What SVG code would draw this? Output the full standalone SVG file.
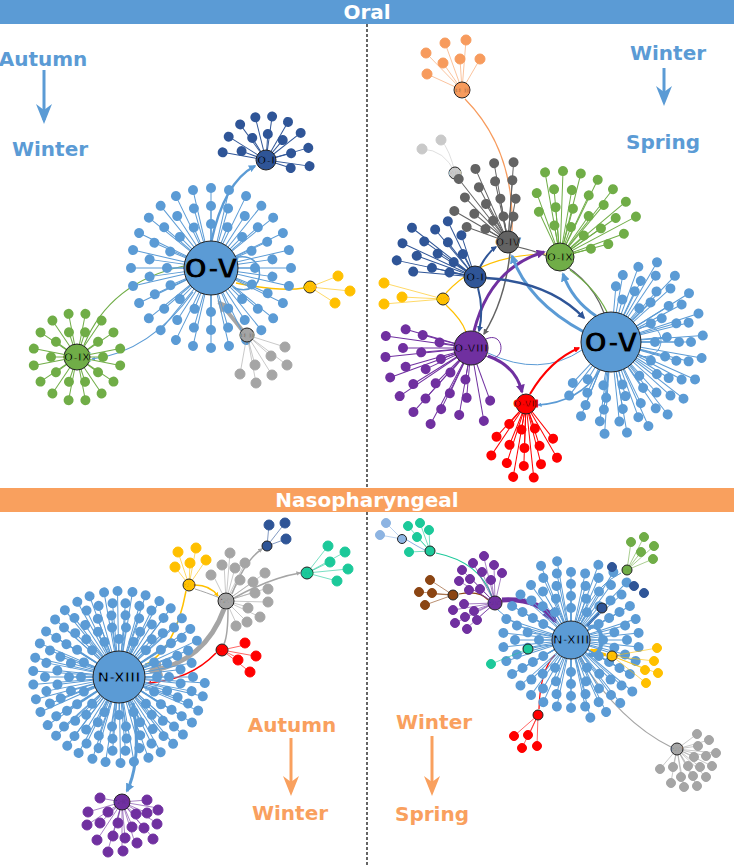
<svg xmlns="http://www.w3.org/2000/svg" xmlns:xlink="http://www.w3.org/1999/xlink" width="734" height="866" viewBox="0 0 734 866">
<style>
text{font-family:"DejaVu Sans","Liberation Sans",sans-serif;font-weight:bold;text-anchor:middle}
.hdr{fill:#fff;font-size:20px}
.sb{fill:#5b9bd5;font-size:20px}
.so{fill:#f9a05e;font-size:20px}
.hub{stroke:#222;stroke-width:1}
.hl{fill:#000;font-size:10px}
.lf line{stroke-width:.6}
.lf path{fill:none;stroke-width:.6}
.e{fill:none}
.bl{fill:#5b9bd5;stroke:#5b9bd5}
.db{fill:#2f5597;stroke:#2f5597}
.gr{fill:#70ad47;stroke:#70ad47}
.ye{fill:#ffc000;stroke:#ffc000}
.gy{fill:#a5a5a5;stroke:#a5a5a5}
.dg{fill:#636363;stroke:#636363}
.or{fill:#f79b5d;stroke:#f79b5d}
.pu{fill:#7030a0;stroke:#7030a0}
.rd{fill:#ff0000;stroke:#ff0000}
.te{fill:#1cc99a;stroke:#1cc99a}
.br{fill:#8b4513;stroke:#8b4513}
.lg{fill:#c9c9c9;stroke:#c9c9c9}
.lb{fill:#8db4e2;stroke:#8db4e2}
</style>
<defs>
<g id="k20"><line x2="20"/><circle cx="20" r="5" stroke="none"/></g>
<g id="k26"><line x2="26"/><circle cx="26" r="5" stroke="none"/></g>
<g id="k32"><line x2="32"/><circle cx="32" r="5" stroke="none"/></g>
<g id="k38"><line x2="38"/><circle cx="38" r="5" stroke="none"/></g>
<g id="k44"><line x2="44"/><circle cx="44" r="5" stroke="none"/></g>
<g id="k50"><line x2="50"/><circle cx="50" r="5" stroke="none"/></g>
<g id="k56"><line x2="56"/><circle cx="56" r="5" stroke="none"/></g>
<g id="k62"><line x2="62"/><circle cx="62" r="5" stroke="none"/></g>
<g id="k68"><line x2="68"/><circle cx="68" r="5" stroke="none"/></g>
<g id="k74"><line x2="74"/><circle cx="74" r="5" stroke="none"/></g>
<g id="k80"><line x2="80"/><circle cx="80" r="5" stroke="none"/></g>
<g id="k86"><line x2="86"/><circle cx="86" r="5" stroke="none"/></g>
<g id="k92"><line x2="92"/><circle cx="92" r="5" stroke="none"/></g>
<marker id="mbl" viewBox="0 0 10 10" refX="8" refY="5" markerWidth="3" markerHeight="3" orient="auto"><path d="M0,0L10,5L0,10z" fill="#5b9bd5"/></marker>
<marker id="mdb" viewBox="0 0 10 10" refX="8" refY="5" markerWidth="3" markerHeight="3" orient="auto"><path d="M0,0L10,5L0,10z" fill="#2f5597"/></marker>
<marker id="mpu" viewBox="0 0 10 10" refX="8" refY="5" markerWidth="3" markerHeight="3" orient="auto"><path d="M0,0L10,5L0,10z" fill="#7030a0"/></marker>
<marker id="mrd" viewBox="0 0 10 10" refX="8" refY="5" markerWidth="3" markerHeight="3" orient="auto"><path d="M0,0L10,5L0,10z" fill="#ff0000"/></marker>
<marker id="mgy" viewBox="0 0 10 10" refX="8" refY="5" markerWidth="3" markerHeight="3" orient="auto"><path d="M0,0L10,5L0,10z" fill="#a5a5a5"/></marker>
<marker id="mdg" viewBox="0 0 10 10" refX="8" refY="5" markerWidth="4" markerHeight="4" orient="auto"><path d="M0,0L10,5L0,10z" fill="#636363"/></marker>
<marker id="mye" viewBox="0 0 10 10" refX="8" refY="5" markerWidth="3" markerHeight="3" orient="auto"><path d="M0,0L10,5L0,10z" fill="#ffc000"/></marker>
<marker id="mseason" viewBox="0 0 10 10" refX="5" refY="9" markerWidth="8" markerHeight="8" orient="auto-start-reverse"><path d="M0,0L5,10L10,0L5,3z"/></marker>
</defs>
<rect width="734" height="866" fill="#fff"/>
<!-- headers -->
<rect x="0" y="0" width="734" height="24" fill="#5b9bd5"/>
<text class="hdr" x="367" y="19">Oral</text>
<rect x="0" y="488" width="734" height="24" fill="#f9a05e"/>
<text class="hdr" x="367" y="507">Nasopharyngeal</text>
<line x1="367" y1="24" x2="367" y2="488" stroke="#000" stroke-width="1.2" stroke-dasharray="3,2"/>
<line x1="367" y1="512" x2="367" y2="866" stroke="#000" stroke-width="1.2" stroke-dasharray="3,2"/>
<!-- season labels -->
<g id="seasons">
<text class="sb" x="43" y="66">Autumn</text>
<line x1="44" y1="70" x2="44" y2="120" stroke="#5b9bd5" stroke-width="3"/><path d="M36,104L44,124L52,104L44,110z" fill="#5b9bd5"/>
<text class="sb" x="50" y="156">Winter</text>
<text class="sb" x="668" y="60">Winter</text>
<line x1="664" y1="68" x2="664" y2="100" stroke="#5b9bd5" stroke-width="3"/><path d="M656,86L664,106L672,86L664,92z" fill="#5b9bd5"/>
<text class="sb" x="663" y="149">Spring</text>
<text class="so" x="292" y="732">Autumn</text>
<line x1="291" y1="738" x2="291" y2="790" stroke="#f9a05e" stroke-width="3"/><path d="M283,776L291,796L299,776L291,782z" fill="#f9a05e"/>
<text class="so" x="290" y="820">Winter</text>
<text class="so" x="434" y="729">Winter</text>
<line x1="432" y1="736" x2="432" y2="790" stroke="#f9a05e" stroke-width="3"/><path d="M424,776L432,796L440,776L432,782z" fill="#f9a05e"/>
<text class="so" x="432" y="821">Spring</text>
</g>

<!-- ================= TOP LEFT ================= -->
<g id="connectors-tl" class="e">
<path class="e" d="M211,243Q224,182 255,166" stroke="#5b9bd5" stroke-width="2.5" marker-end="url(#mbl)"/>
<path class="e" d="M84,345Q110,282 184,266" stroke="#70ad47" stroke-width="1.2"/>
<path class="e" d="M193,292Q150,352 92,359" stroke="#5b9bd5" stroke-width="1.2" marker-end="url(#mbl)"/>
<path class="e" d="M236,283Q280,292 304,288" stroke="#ffc000" stroke-width="1.5"/>
<path class="e" d="M242,330Q228,312 219,302" stroke="#a5a5a5" stroke-width="4" marker-end="url(#mgy)"/>
<path class="e" d="M234,258C268,248 268,300 234,288" stroke="#5b9bd5" stroke-width="1.5"/>
</g>
<g id="tl-OV" class="lf bl" transform="translate(211,268)">
<use href="#k44" transform="rotate(0)"/><use href="#k44" transform="rotate(22)"/><use href="#k44" transform="rotate(45)"/><use href="#k44" transform="rotate(67)"/><use href="#k44" transform="rotate(90)"/><use href="#k44" transform="rotate(112)"/><use href="#k44" transform="rotate(135)"/><use href="#k44" transform="rotate(157)"/><use href="#k44" transform="rotate(180)"/><use href="#k44" transform="rotate(202)"/><use href="#k44" transform="rotate(225)"/><use href="#k44" transform="rotate(247)"/><use href="#k44" transform="rotate(270)"/><use href="#k44" transform="rotate(292)"/><use href="#k44" transform="rotate(315)"/><use href="#k44" transform="rotate(337)"/>
<use href="#k62" transform="rotate(8)"/><use href="#k62" transform="rotate(24)"/><use href="#k62" transform="rotate(41)"/><use href="#k62" transform="rotate(57)"/><use href="#k62" transform="rotate(74)"/><use href="#k62" transform="rotate(90)"/><use href="#k62" transform="rotate(106)"/><use href="#k62" transform="rotate(123)"/><use href="#k62" transform="rotate(139)"/><use href="#k62" transform="rotate(155)"/><use href="#k62" transform="rotate(172)"/><use href="#k62" transform="rotate(188)"/><use href="#k62" transform="rotate(204)"/><use href="#k62" transform="rotate(221)"/><use href="#k62" transform="rotate(237)"/><use href="#k62" transform="rotate(254)"/><use href="#k62" transform="rotate(270)"/><use href="#k62" transform="rotate(286)"/><use href="#k62" transform="rotate(303)"/><use href="#k62" transform="rotate(319)"/><use href="#k62" transform="rotate(335)"/><use href="#k62" transform="rotate(352)"/>
<use href="#k80" transform="rotate(0)"/><use href="#k80" transform="rotate(13)"/><use href="#k80" transform="rotate(26)"/><use href="#k80" transform="rotate(39)"/><use href="#k80" transform="rotate(51)"/><use href="#k80" transform="rotate(64)"/><use href="#k80" transform="rotate(77)"/><use href="#k80" transform="rotate(90)"/><use href="#k80" transform="rotate(103)"/><use href="#k80" transform="rotate(116)"/><use href="#k80" transform="rotate(129)"/><use href="#k80" transform="rotate(141)"/><use href="#k80" transform="rotate(154)"/><use href="#k80" transform="rotate(167)"/><use href="#k80" transform="rotate(180)"/><use href="#k80" transform="rotate(193)"/><use href="#k80" transform="rotate(206)"/><use href="#k80" transform="rotate(219)"/><use href="#k80" transform="rotate(231)"/><use href="#k80" transform="rotate(244)"/><use href="#k80" transform="rotate(257)"/><use href="#k80" transform="rotate(270)"/><use href="#k80" transform="rotate(283)"/><use href="#k80" transform="rotate(296)"/><use href="#k80" transform="rotate(309)"/><use href="#k80" transform="rotate(321)"/><use href="#k80" transform="rotate(334)"/><use href="#k80" transform="rotate(347)"/>
<circle class="hub" r="27"/><text class="hl" y="10" style="font-size:27px">O-V</text>
</g>
<g id="tl-OI" class="lf db" transform="translate(266,160)">
<use href="#k26" transform="rotate(-160)"/><use href="#k26" transform="rotate(-122)"/><use href="#k26" transform="rotate(-86)"/><use href="#k26" transform="rotate(-50)"/><use href="#k26" transform="rotate(-15)"/><use href="#k26" transform="rotate(18)"/>
<use href="#k44" transform="rotate(-170)"/><use href="#k44" transform="rotate(-148)"/><use href="#k44" transform="rotate(-126)"/><use href="#k44" transform="rotate(-104)"/><use href="#k44" transform="rotate(-82)"/><use href="#k44" transform="rotate(-60)"/><use href="#k44" transform="rotate(-38)"/><use href="#k44" transform="rotate(-16)"/><use href="#k44" transform="rotate(8)"/>
<circle class="hub" r="10"/><text class="hl" y="4" style="font-size:11px">O-I</text>
</g>
<g id="tl-OIX" class="lf gr" transform="translate(77,357)">
<use href="#k26" transform="rotate(0)"/><use href="#k26" transform="rotate(36)"/><use href="#k26" transform="rotate(72)"/><use href="#k26" transform="rotate(108)"/><use href="#k26" transform="rotate(144)"/><use href="#k26" transform="rotate(180)"/><use href="#k26" transform="rotate(216)"/><use href="#k26" transform="rotate(252)"/><use href="#k26" transform="rotate(288)"/><use href="#k26" transform="rotate(324)"/>
<use href="#k44" transform="rotate(11)"/><use href="#k44" transform="rotate(34)"/><use href="#k44" transform="rotate(56)"/><use href="#k44" transform="rotate(79)"/><use href="#k44" transform="rotate(101)"/><use href="#k44" transform="rotate(124)"/><use href="#k44" transform="rotate(146)"/><use href="#k44" transform="rotate(169)"/><use href="#k44" transform="rotate(191)"/><use href="#k44" transform="rotate(214)"/><use href="#k44" transform="rotate(236)"/><use href="#k44" transform="rotate(259)"/><use href="#k44" transform="rotate(281)"/><use href="#k44" transform="rotate(304)"/><use href="#k44" transform="rotate(326)"/><use href="#k44" transform="rotate(349)"/>
<circle class="hub" r="13"/><text class="hl" y="4" style="font-size:11px">O-IX</text>
</g>
<g id="tl-OVI" class="lf ye">
<path d="M310,287L338,276M310,287L350,291M310,287L335,303"/>
<circle cx="338" cy="276" r="5"/><circle cx="350" cy="291" r="5"/><circle cx="335" cy="303" r="5"/>
<circle class="hub" cx="310" cy="287" r="6"/><text class="hl" x="310" y="289" style="font-size:5px">O-VI</text>
</g>
<g id="tl-OII" class="lf gy">
<path d="M247,335L285,347M247,335L271,356M247,335L287,365M247,335L255,365M247,335L272,375M247,335L240,374M247,335L256,383"/>
<circle cx="285" cy="347" r="5"/><circle cx="271" cy="356" r="5"/><circle cx="287" cy="365" r="5"/><circle cx="255" cy="365" r="5"/><circle cx="272" cy="375" r="5"/><circle cx="240" cy="374" r="5"/><circle cx="256" cy="383" r="5"/>
<circle class="hub" cx="247" cy="335" r="7"/><text class="hl" x="247" y="338" style="font-size:7px">O-II</text>
</g>

<!-- ================= TOP RIGHT ================= -->
<g id="connectors-tr">
<path class="e" d="M465,99Q515,150 512,231" stroke="#f79b5d" stroke-width="1.2"/>
<path class="e" d="M446,293Q480,255 546,254" stroke="#ffc000" stroke-width="1.2"/>
<path class="e" d="M446,305Q462,320 466,332" stroke="#ffc000" stroke-width="1.2"/>
<path class="e" d="M518,247Q585,262 604,313" stroke="#636363" stroke-width="1.2"/>
<path class="e" d="M570,270Q595,288 607,312" stroke="#70ad47" stroke-width="1.2"/>
<path class="e" d="M488,353Q540,378 582,350" stroke="#5b9bd5" stroke-width="1"/>
<path class="e" d="M510,253Q505,300 484,334" stroke="#636363" stroke-width="1.5" marker-end="url(#mdg)"/>
<path class="e" d="M474,331Q490,268 544,252" stroke="#7030a0" stroke-width="3" marker-end="url(#mpu)"/>
<path class="e" d="M488,356Q516,366 522,392" stroke="#7030a0" stroke-width="3" marker-end="url(#mpu)"/>
<path class="e" d="M530,394Q550,360 579,348" stroke="#ff0000" stroke-width="2" marker-end="url(#mrd)"/>
<path class="e" d="M600,370Q580,402 538,405" stroke="#5b9bd5" stroke-width="1.5" marker-end="url(#mbl)"/>
<path class="e" d="M584,332Q528,302 512,256" stroke="#5b9bd5" stroke-width="3" marker-end="url(#mbl)"/>
<path class="e" d="M596,316Q572,300 563,274" stroke="#5b9bd5" stroke-width="3" marker-end="url(#mbl)"/>
<path class="e" d="M486,278Q550,282 584,318" stroke="#2f5597" stroke-width="2.5" marker-end="url(#mdb)"/>
<path class="e" d="M480,267Q488,252 496,247" stroke="#2f5597" stroke-width="2" marker-end="url(#mdb)"/>
<path class="e" d="M478,288Q484,310 479,331" stroke="#2f5597" stroke-width="2" marker-end="url(#mdb)"/>
<path class="e" d="M486,339C506,330 506,366 486,356" stroke="#7030a0" stroke-width="1"/>
<path class="e" d="M640,328C668,318 668,362 640,356" stroke="#5b9bd5" stroke-width="1"/>
</g>
<g id="tr-OII" class="lf or">
<path d="M462,90L445,43M462,90L466,40M462,90L426,53M462,90L443,63M462,90L460,59M462,90L480,59M462,90L427,74"/>
<circle cx="445" cy="43" r="5"/><circle cx="466" cy="40" r="5"/><circle cx="426" cy="53" r="5"/><circle cx="443" cy="63" r="5"/><circle cx="460" cy="59" r="5"/><circle cx="480" cy="59" r="5"/><circle cx="427" cy="74" r="5"/>
<circle class="hub" cx="462" cy="90" r="8"/><text class="hl" x="462" y="93" style="font-size:7px">O-II</text>
</g>
<g id="tr-OIII" class="lf lg">
<path d="M455,173Q445,150 422,149M455,173Q450,150 441,140"/>
<circle cx="422" cy="149" r="5"/><circle cx="441" cy="140" r="5"/>
<circle class="hub" cx="455" cy="173" r="6"/><text class="hl" x="455" y="175" style="font-size:5px">O-III</text>
</g>
<g id="tr-OIV" class="lf dg" transform="translate(508,242)">
<use href="#k26" transform="rotate(-150)"/><use href="#k26" transform="rotate(-125)"/><use href="#k26" transform="rotate(-100)"/><use href="#k26" transform="rotate(-78)"/>
<use href="#k44" transform="rotate(-160)"/><use href="#k44" transform="rotate(-140)"/><use href="#k44" transform="rotate(-120)"/><use href="#k44" transform="rotate(-100)"/><use href="#k44" transform="rotate(-80)"/>
<use href="#k62" transform="rotate(-150)"/><use href="#k62" transform="rotate(-134)"/><use href="#k62" transform="rotate(-118)"/><use href="#k62" transform="rotate(-102)"/><use href="#k62" transform="rotate(-86)"/>
<use href="#k80" transform="rotate(-128)"/><use href="#k80" transform="rotate(-114)"/><use href="#k80" transform="rotate(-100)"/><use href="#k80" transform="rotate(-86)"/>
<circle class="hub" r="11"/><text class="hl" y="4" style="font-size:10px">O-IV</text>
</g>
<g id="tr-OIX" class="lf gr" transform="translate(560,257)">
<use href="#k32" transform="rotate(-100)"/><use href="#k32" transform="rotate(-70)"/><use href="#k32" transform="rotate(-42)"/><use href="#k32" transform="rotate(-15)"/>
<use href="#k50" transform="rotate(-115)"/><use href="#k50" transform="rotate(-95)"/><use href="#k50" transform="rotate(-75)"/><use href="#k50" transform="rotate(-55)"/><use href="#k50" transform="rotate(-35)"/><use href="#k50" transform="rotate(-15)"/>
<use href="#k68" transform="rotate(-110)"/><use href="#k68" transform="rotate(-95)"/><use href="#k68" transform="rotate(-80)"/><use href="#k68" transform="rotate(-65)"/><use href="#k68" transform="rotate(-50)"/><use href="#k68" transform="rotate(-35)"/><use href="#k68" transform="rotate(-20)"/>
<use href="#k86" transform="rotate(-100)"/><use href="#k86" transform="rotate(-88)"/><use href="#k86" transform="rotate(-76)"/><use href="#k86" transform="rotate(-64)"/><use href="#k86" transform="rotate(-52)"/><use href="#k86" transform="rotate(-40)"/><use href="#k86" transform="rotate(-28)"/>
<circle class="hub" r="14"/><text class="hl" y="4" style="font-size:11px">O-IX</text>
</g>
<g id="tr-OI" class="lf db" transform="translate(475,277)">
<use href="#k26" transform="rotate(-170)"/><use href="#k26" transform="rotate(-145)"/><use href="#k26" transform="rotate(-118)"/>
<use href="#k44" transform="rotate(-168)"/><use href="#k44" transform="rotate(-148)"/><use href="#k44" transform="rotate(-128)"/><use href="#k44" transform="rotate(-108)"/>
<use href="#k62" transform="rotate(-175)"/><use href="#k62" transform="rotate(-160)"/><use href="#k62" transform="rotate(-145)"/><use href="#k62" transform="rotate(-130)"/><use href="#k62" transform="rotate(-116)"/>
<use href="#k80" transform="rotate(-168)"/><use href="#k80" transform="rotate(-155)"/><use href="#k80" transform="rotate(-142)"/>
<circle class="hub" r="11"/><text class="hl" y="4" style="font-size:11px">O-I</text>
</g>
<g id="tr-OVI" class="lf ye">
<path d="M443,299L384,283M443,299L384,304M443,299L402,297"/>
<circle cx="384" cy="283" r="5"/><circle cx="384" cy="304" r="5"/><circle cx="402" cy="297" r="5"/>
<circle class="hub" cx="443" cy="299" r="6"/><text class="hl" x="443" y="301" style="font-size:5px">O-VI</text>
</g>
<g id="tr-OVIII" class="lf pu" transform="translate(471,348)">
<use href="#k32" transform="rotate(100)"/><use href="#k32" transform="rotate(130)"/><use href="#k32" transform="rotate(160)"/><use href="#k32" transform="rotate(190)"/>
<use href="#k50" transform="rotate(95)"/><use href="#k50" transform="rotate(115)"/><use href="#k50" transform="rotate(135)"/><use href="#k50" transform="rotate(155)"/><use href="#k50" transform="rotate(175)"/><use href="#k50" transform="rotate(195)"/>
<use href="#k68" transform="rotate(100)"/><use href="#k68" transform="rotate(116)"/><use href="#k68" transform="rotate(132)"/><use href="#k68" transform="rotate(148)"/><use href="#k68" transform="rotate(164)"/><use href="#k68" transform="rotate(180)"/><use href="#k68" transform="rotate(196)"/>
<use href="#k86" transform="rotate(118)"/><use href="#k86" transform="rotate(132)"/><use href="#k86" transform="rotate(146)"/><use href="#k86" transform="rotate(160)"/><use href="#k86" transform="rotate(174)"/><use href="#k86" transform="rotate(188)"/>
<use href="#k74" transform="rotate(80)"/><use href="#k56" transform="rotate(70)"/>
<circle class="hub" r="17"/><text class="hl" y="4" style="font-size:11px">O-VIII</text>
</g>
<g id="tr-OVII" class="lf rd" transform="translate(526,404)">
<use href="#k26" transform="rotate(70)"/><use href="#k26" transform="rotate(100)"/><use href="#k26" transform="rotate(130)"/>
<use href="#k44" transform="rotate(52)"/><use href="#k44" transform="rotate(72)"/><use href="#k44" transform="rotate(92)"/><use href="#k44" transform="rotate(112)"/><use href="#k44" transform="rotate(132)"/>
<use href="#k62" transform="rotate(60)"/><use href="#k62" transform="rotate(76)"/><use href="#k62" transform="rotate(92)"/><use href="#k62" transform="rotate(108)"/><use href="#k62" transform="rotate(124)"/>
<use href="#k74" transform="rotate(84)"/><use href="#k74" transform="rotate(100)"/>
<circle class="hub" r="10"/><text class="hl" y="3" style="font-size:9px">O-VII</text>
</g>
<g id="tr-OV" class="lf bl" transform="translate(611,342)">
<use href="#k44" transform="rotate(-75)"/><use href="#k44" transform="rotate(-50)"/><use href="#k44" transform="rotate(-25)"/><use href="#k44" transform="rotate(0)"/><use href="#k44" transform="rotate(25)"/><use href="#k44" transform="rotate(50)"/><use href="#k44" transform="rotate(75)"/><use href="#k44" transform="rotate(100)"/><use href="#k44" transform="rotate(122)"/>
<use href="#k56" transform="rotate(-85)"/><use href="#k56" transform="rotate(-65)"/><use href="#k56" transform="rotate(-45)"/><use href="#k56" transform="rotate(-25)"/><use href="#k56" transform="rotate(-5)"/><use href="#k56" transform="rotate(15)"/><use href="#k56" transform="rotate(35)"/><use href="#k56" transform="rotate(55)"/><use href="#k56" transform="rotate(75)"/><use href="#k56" transform="rotate(95)"/><use href="#k56" transform="rotate(115)"/><use href="#k56" transform="rotate(133)"/>
<use href="#k68" transform="rotate(-80)"/><use href="#k68" transform="rotate(-64)"/><use href="#k68" transform="rotate(-48)"/><use href="#k68" transform="rotate(-32)"/><use href="#k68" transform="rotate(-16)"/><use href="#k68" transform="rotate(0)"/><use href="#k68" transform="rotate(16)"/><use href="#k68" transform="rotate(32)"/><use href="#k68" transform="rotate(48)"/><use href="#k68" transform="rotate(64)"/><use href="#k68" transform="rotate(80)"/><use href="#k68" transform="rotate(96)"/><use href="#k68" transform="rotate(112)"/><use href="#k68" transform="rotate(128)"/>
<use href="#k80" transform="rotate(-70)"/><use href="#k80" transform="rotate(-56)"/><use href="#k80" transform="rotate(-42)"/><use href="#k80" transform="rotate(-28)"/><use href="#k80" transform="rotate(-14)"/><use href="#k80" transform="rotate(0)"/><use href="#k80" transform="rotate(14)"/><use href="#k80" transform="rotate(28)"/><use href="#k80" transform="rotate(42)"/><use href="#k80" transform="rotate(56)"/><use href="#k80" transform="rotate(70)"/><use href="#k80" transform="rotate(84)"/><use href="#k80" transform="rotate(98)"/><use href="#k80" transform="rotate(112)"/>
<use href="#k92" transform="rotate(-60)"/><use href="#k92" transform="rotate(-46)"/><use href="#k92" transform="rotate(-32)"/><use href="#k92" transform="rotate(-18)"/><use href="#k92" transform="rotate(-4)"/><use href="#k92" transform="rotate(10)"/><use href="#k92" transform="rotate(24)"/><use href="#k92" transform="rotate(38)"/><use href="#k92" transform="rotate(52)"/><use href="#k92" transform="rotate(66)"/><use href="#k92" transform="rotate(80)"/><use href="#k92" transform="rotate(94)"/>
<circle class="hub" r="30"/><text class="hl" y="10" style="font-size:27px">O-V</text>
</g>

<!-- ================= BOTTOM LEFT ================= -->
<g id="connectors-bl">
<path class="e" d="M186,591Q175,650 145,665" stroke="#ffc000" stroke-width="1.5"/>
<path class="e" d="M224,609Q205,662 150,671" stroke="#a5a5a5" stroke-width="5" marker-end="url(#mgy)"/>
<path class="e" d="M216,653Q190,680 148,683" stroke="#ff0000" stroke-width="1.5" marker-end="url(#mrd)"/>
<path class="e" d="M133,703Q142,760 127,791" stroke="#5b9bd5" stroke-width="3" marker-end="url(#mbl)"/>
<path class="e" d="M195,585Q210,585 218,596" stroke="#ffc000" stroke-width="1.5" marker-end="url(#mye)"/>
<path class="e" d="M220,598Q205,592 195,589" stroke="#a5a5a5" stroke-width="1"/>
<path class="e" d="M232,594Q245,560 262,549" stroke="#a5a5a5" stroke-width="1.5" marker-end="url(#mgy)"/>
<path class="e" d="M234,598Q270,578 300,573" stroke="#a5a5a5" stroke-width="1.5" marker-end="url(#mgy)"/>
<path class="e" d="M228,609Q228,635 224,644" stroke="#a5a5a5" stroke-width="1.5"/>
<path class="e" d="M145,664C166,658 166,692 145,690" stroke="#5b9bd5" stroke-width="1"/>
</g>
<g id="bl-NXIII" class="lf bl" transform="translate(119,677)">
<use href="#k38" transform="rotate(0)"/><use href="#k38" transform="rotate(22.5)"/><use href="#k38" transform="rotate(45)"/><use href="#k38" transform="rotate(67.5)"/><use href="#k38" transform="rotate(90)"/><use href="#k38" transform="rotate(112.5)"/><use href="#k38" transform="rotate(135)"/><use href="#k38" transform="rotate(157.5)"/><use href="#k38" transform="rotate(180)"/><use href="#k38" transform="rotate(202.5)"/><use href="#k38" transform="rotate(225)"/><use href="#k38" transform="rotate(247.5)"/><use href="#k38" transform="rotate(270)"/><use href="#k38" transform="rotate(292.5)"/><use href="#k38" transform="rotate(315)"/><use href="#k38" transform="rotate(337.5)"/>
<use href="#k50" transform="rotate(0)"/><use href="#k50" transform="rotate(16)"/><use href="#k50" transform="rotate(33)"/><use href="#k50" transform="rotate(49)"/><use href="#k50" transform="rotate(65)"/><use href="#k50" transform="rotate(82)"/><use href="#k50" transform="rotate(98)"/><use href="#k50" transform="rotate(115)"/><use href="#k50" transform="rotate(131)"/><use href="#k50" transform="rotate(147)"/><use href="#k50" transform="rotate(164)"/><use href="#k50" transform="rotate(180)"/><use href="#k50" transform="rotate(196)"/><use href="#k50" transform="rotate(213)"/><use href="#k50" transform="rotate(229)"/><use href="#k50" transform="rotate(245)"/><use href="#k50" transform="rotate(262)"/><use href="#k50" transform="rotate(278)"/><use href="#k50" transform="rotate(295)"/><use href="#k50" transform="rotate(311)"/><use href="#k50" transform="rotate(327)"/><use href="#k50" transform="rotate(344)"/>
<use href="#k62" transform="rotate(6)"/><use href="#k62" transform="rotate(19)"/><use href="#k62" transform="rotate(32)"/><use href="#k62" transform="rotate(45)"/><use href="#k62" transform="rotate(57)"/><use href="#k62" transform="rotate(70)"/><use href="#k62" transform="rotate(83)"/><use href="#k62" transform="rotate(96)"/><use href="#k62" transform="rotate(109)"/><use href="#k62" transform="rotate(122)"/><use href="#k62" transform="rotate(135)"/><use href="#k62" transform="rotate(147)"/><use href="#k62" transform="rotate(160)"/><use href="#k62" transform="rotate(173)"/><use href="#k62" transform="rotate(186)"/><use href="#k62" transform="rotate(199)"/><use href="#k62" transform="rotate(212)"/><use href="#k62" transform="rotate(225)"/><use href="#k62" transform="rotate(237)"/><use href="#k62" transform="rotate(250)"/><use href="#k62" transform="rotate(263)"/><use href="#k62" transform="rotate(276)"/><use href="#k62" transform="rotate(289)"/><use href="#k62" transform="rotate(302)"/><use href="#k62" transform="rotate(315)"/><use href="#k62" transform="rotate(327)"/><use href="#k62" transform="rotate(340)"/><use href="#k62" transform="rotate(353)"/>
<use href="#k74" transform="rotate(0)"/><use href="#k74" transform="rotate(11)"/><use href="#k74" transform="rotate(21)"/><use href="#k74" transform="rotate(32)"/><use href="#k74" transform="rotate(42)"/><use href="#k74" transform="rotate(53)"/><use href="#k74" transform="rotate(64)"/><use href="#k74" transform="rotate(74)"/><use href="#k74" transform="rotate(85)"/><use href="#k74" transform="rotate(95)"/><use href="#k74" transform="rotate(106)"/><use href="#k74" transform="rotate(116)"/><use href="#k74" transform="rotate(127)"/><use href="#k74" transform="rotate(138)"/><use href="#k74" transform="rotate(148)"/><use href="#k74" transform="rotate(159)"/><use href="#k74" transform="rotate(169)"/><use href="#k74" transform="rotate(180)"/><use href="#k74" transform="rotate(191)"/><use href="#k74" transform="rotate(201)"/><use href="#k74" transform="rotate(212)"/><use href="#k74" transform="rotate(222)"/><use href="#k74" transform="rotate(233)"/><use href="#k74" transform="rotate(244)"/><use href="#k74" transform="rotate(254)"/><use href="#k74" transform="rotate(265)"/><use href="#k74" transform="rotate(275)"/><use href="#k74" transform="rotate(286)"/><use href="#k74" transform="rotate(296)"/><use href="#k74" transform="rotate(307)"/><use href="#k74" transform="rotate(318)"/><use href="#k74" transform="rotate(328)"/><use href="#k74" transform="rotate(339)"/><use href="#k74" transform="rotate(349)"/>
<use href="#k86" transform="rotate(4)"/><use href="#k86" transform="rotate(13)"/><use href="#k86" transform="rotate(23)"/><use href="#k86" transform="rotate(32)"/><use href="#k86" transform="rotate(42)"/><use href="#k86" transform="rotate(51)"/><use href="#k86" transform="rotate(61)"/><use href="#k86" transform="rotate(70)"/><use href="#k86" transform="rotate(80)"/><use href="#k86" transform="rotate(89)"/><use href="#k86" transform="rotate(99)"/><use href="#k86" transform="rotate(108)"/><use href="#k86" transform="rotate(118)"/><use href="#k86" transform="rotate(127)"/><use href="#k86" transform="rotate(137)"/><use href="#k86" transform="rotate(146)"/><use href="#k86" transform="rotate(156)"/><use href="#k86" transform="rotate(165)"/><use href="#k86" transform="rotate(175)"/><use href="#k86" transform="rotate(184)"/><use href="#k86" transform="rotate(193)"/><use href="#k86" transform="rotate(203)"/><use href="#k86" transform="rotate(212)"/><use href="#k86" transform="rotate(222)"/><use href="#k86" transform="rotate(231)"/><use href="#k86" transform="rotate(241)"/><use href="#k86" transform="rotate(250)"/><use href="#k86" transform="rotate(260)"/><use href="#k86" transform="rotate(269)"/><use href="#k86" transform="rotate(279)"/><use href="#k86" transform="rotate(288)"/><use href="#k86" transform="rotate(298)"/><use href="#k86" transform="rotate(307)"/><use href="#k86" transform="rotate(317)"/><use href="#k86" transform="rotate(326)"/><use href="#k86" transform="rotate(335)"/>
<circle class="hub" r="26"/><text class="hl" y="5" style="font-size:14px">N-XIII</text>
</g>
<g id="bl-NX" class="lf ye">
<path d="M189,585L178,552M189,585L196,548M189,585L206,560M189,585L190,563M189,585L175,567"/>
<circle cx="178" cy="552" r="5"/><circle cx="196" cy="548" r="5"/><circle cx="206" cy="560" r="5"/><circle cx="190" cy="563" r="5"/><circle cx="175" cy="567" r="5"/>
<circle class="hub" cx="189" cy="585" r="6"/><text class="hl" x="189" y="587" style="font-size:5px">N-X</text>
</g>
<g id="bl-NV" class="lf gy">
<path d="M226,601L230,553M226,601L245,563M226,601L235,568M226,601L224,563M226,601L213,575M226,601L240,580M226,601L253,582M226,601L265,573M226,601L255,592M226,601L268,588M226,601L267,602M226,601L248,607M226,601L260,617M226,601L247,622M226,601L237,625"/>
<circle cx="230" cy="553" r="5"/><circle cx="245" cy="563" r="5"/><circle cx="235" cy="568" r="5"/><circle cx="222" cy="565" r="5"/><circle cx="211" cy="575" r="5"/><circle cx="240" cy="580" r="5"/><circle cx="253" cy="582" r="5"/><circle cx="265" cy="573" r="5"/><circle cx="255" cy="593" r="5"/><circle cx="268" cy="589" r="5"/><circle cx="268" cy="602" r="5"/><circle cx="248" cy="608" r="5"/><circle cx="260" cy="617" r="5"/><circle cx="247" cy="622" r="5"/><circle cx="236" cy="626" r="5"/>
<circle class="hub" cx="226" cy="601" r="8"/><text class="hl" x="226" y="603" style="font-size:6px">N-V</text>
</g>
<g id="bl-NDB" class="lf db">
<path d="M267,546L269,525M267,546L285,523M267,546L286,539"/>
<circle cx="269" cy="525" r="5"/><circle cx="285" cy="523" r="5"/><circle cx="286" cy="539" r="5"/>
<circle class="hub" cx="267" cy="546" r="5"/>
</g>
<g id="bl-NXII" class="lf te">
<path d="M307,573L328,546M307,573L345,552M307,573L330,562M307,573L348,569M307,573L337,581"/>
<circle cx="328" cy="546" r="5"/><circle cx="345" cy="552" r="5"/><circle cx="330" cy="562" r="5"/><circle cx="348" cy="569" r="5"/><circle cx="337" cy="581" r="5"/>
<circle class="hub" cx="307" cy="573" r="6"/><text class="hl" x="307" y="575" style="font-size:4px">N-XII</text>
</g>
<g id="bl-NII" class="lf rd">
<path d="M222,650L245,645M222,650L255,656M222,650L238,658M222,650L250,672"/>
<circle cx="245" cy="643" r="5"/><circle cx="256" cy="656" r="5"/><circle cx="238" cy="660" r="5"/><circle cx="250" cy="672" r="5"/>
<circle class="hub" cx="222" cy="650" r="6"/><text class="hl" x="222" y="652" style="font-size:5px">N-II</text>
</g>
<g id="bl-NIV" class="lf pu">
<path d="M122,802L100,798M122,802L88,812M122,802L87,825M122,802L100,823M122,802L97,840M122,802L108,850M122,802L113,835M122,802L125,838M122,802L135,843M122,802L147,800M122,802L158,808M122,802L147,813M122,802L157,823M122,802L143,827M122,802L153,838M122,802L133,828M122,802L117,823M122,802L110,812M122,802L136,815M122,802L122,850"/>
<circle cx="100" cy="798" r="5"/><circle cx="88" cy="812" r="5"/><circle cx="87" cy="825" r="5"/><circle cx="100" cy="823" r="5"/><circle cx="97" cy="840" r="5"/><circle cx="108" cy="852" r="5"/><circle cx="113" cy="836" r="5"/><circle cx="125" cy="838" r="5"/><circle cx="137" cy="843" r="5"/><circle cx="147" cy="800" r="5"/><circle cx="158" cy="810" r="5"/><circle cx="147" cy="813" r="5"/><circle cx="157" cy="824" r="5"/><circle cx="144" cy="828" r="5"/><circle cx="153" cy="839" r="5"/><circle cx="132" cy="827" r="5"/><circle cx="118" cy="823" r="5"/><circle cx="108" cy="812" r="5"/><circle cx="136" cy="814" r="5"/><circle cx="123" cy="851" r="5"/>
<circle class="hub" cx="122" cy="802" r="8"/><text class="hl" x="122" y="804" style="font-size:6px">N-IV</text>
</g>

<!-- ================= BOTTOM RIGHT ================= -->
<g id="connectors-br">
<path class="e" d="M436,553Q480,562 492,597" stroke="#1cc99a" stroke-width="1.2"/>
<path class="e" d="M459,594Q480,590 488,600" stroke="#8b4513" stroke-width="1.2"/>
<path class="e" d="M407,540Q420,548 425,550" stroke="#8db4e2" stroke-width="1"/>
<path class="e" d="M498,610Q520,632 552,636" stroke="#5b9bd5" stroke-width="1"/>
<path class="e" d="M621,573Q595,585 580,621" stroke="#5b9bd5" stroke-width="1"/>
<path class="e" d="M580,658Q620,722 671,747" stroke="#a5a5a5" stroke-width="1.2"/>
<path class="e" d="M539,709Q540,670 555,655" stroke="#ff0000" stroke-width="1.2"/>
<path class="e" d="M533,648Q545,645 553,645" stroke="#5b9bd5" stroke-width="1"/>
<path class="e" d="M599,613Q592,620 587,626" stroke="#2f5597" stroke-width="2.5"/>
<path class="e" d="M502,600Q540,598 555,621" stroke="#7030a0" stroke-width="5" marker-end="url(#mpu)"/>
<path class="e" d="M606,655Q598,653 591,650" stroke="#ffc000" stroke-width="3" marker-end="url(#mye)"/>
<path class="e" d="M588,628C606,618 606,662 588,654" stroke="#5b9bd5" stroke-width="4"/>
</g>
<g id="br-NXIII" class="lf bl" transform="translate(571,640)">
<use href="#k32" transform="rotate(0)"/><use href="#k32" transform="rotate(30)"/><use href="#k32" transform="rotate(60)"/><use href="#k32" transform="rotate(90)"/><use href="#k32" transform="rotate(120)"/><use href="#k32" transform="rotate(150)"/><use href="#k32" transform="rotate(180)"/><use href="#k32" transform="rotate(210)"/><use href="#k32" transform="rotate(240)"/><use href="#k32" transform="rotate(270)"/><use href="#k32" transform="rotate(300)"/><use href="#k32" transform="rotate(330)"/>
<use href="#k44" transform="rotate(10)"/><use href="#k44" transform="rotate(30)"/><use href="#k44" transform="rotate(50)"/><use href="#k44" transform="rotate(70)"/><use href="#k44" transform="rotate(90)"/><use href="#k44" transform="rotate(110)"/><use href="#k44" transform="rotate(130)"/><use href="#k44" transform="rotate(150)"/><use href="#k44" transform="rotate(170)"/><use href="#k44" transform="rotate(190)"/><use href="#k44" transform="rotate(210)"/><use href="#k44" transform="rotate(230)"/><use href="#k44" transform="rotate(250)"/><use href="#k44" transform="rotate(270)"/><use href="#k44" transform="rotate(290)"/><use href="#k44" transform="rotate(310)"/><use href="#k44" transform="rotate(330)"/><use href="#k44" transform="rotate(350)"/>
<use href="#k56" transform="rotate(0)"/><use href="#k56" transform="rotate(15)"/><use href="#k56" transform="rotate(30)"/><use href="#k56" transform="rotate(45)"/><use href="#k56" transform="rotate(60)"/><use href="#k56" transform="rotate(75)"/><use href="#k56" transform="rotate(90)"/><use href="#k56" transform="rotate(105)"/><use href="#k56" transform="rotate(120)"/><use href="#k56" transform="rotate(135)"/><use href="#k56" transform="rotate(150)"/><use href="#k56" transform="rotate(165)"/><use href="#k56" transform="rotate(180)"/><use href="#k56" transform="rotate(195)"/><use href="#k56" transform="rotate(210)"/><use href="#k56" transform="rotate(225)"/><use href="#k56" transform="rotate(240)"/><use href="#k56" transform="rotate(255)"/><use href="#k56" transform="rotate(270)"/><use href="#k56" transform="rotate(285)"/><use href="#k56" transform="rotate(300)"/><use href="#k56" transform="rotate(315)"/><use href="#k56" transform="rotate(330)"/><use href="#k56" transform="rotate(345)"/>
<use href="#k68" transform="rotate(6)"/><use href="#k68" transform="rotate(18)"/><use href="#k68" transform="rotate(30)"/><use href="#k68" transform="rotate(42)"/><use href="#k68" transform="rotate(54)"/><use href="#k68" transform="rotate(66)"/><use href="#k68" transform="rotate(78)"/><use href="#k68" transform="rotate(90)"/><use href="#k68" transform="rotate(102)"/><use href="#k68" transform="rotate(114)"/><use href="#k68" transform="rotate(126)"/><use href="#k68" transform="rotate(138)"/><use href="#k68" transform="rotate(150)"/><use href="#k68" transform="rotate(162)"/><use href="#k68" transform="rotate(174)"/><use href="#k68" transform="rotate(186)"/><use href="#k68" transform="rotate(198)"/><use href="#k68" transform="rotate(210)"/><use href="#k68" transform="rotate(222)"/><use href="#k68" transform="rotate(234)"/><use href="#k68" transform="rotate(246)"/><use href="#k68" transform="rotate(258)"/><use href="#k68" transform="rotate(270)"/><use href="#k68" transform="rotate(282)"/><use href="#k68" transform="rotate(294)"/><use href="#k68" transform="rotate(306)"/><use href="#k68" transform="rotate(318)"/><use href="#k68" transform="rotate(330)"/><use href="#k68" transform="rotate(342)"/><use href="#k68" transform="rotate(354)"/>
<use href="#k80" transform="rotate(-70)"/><use href="#k80" transform="rotate(-58)"/><use href="#k80" transform="rotate(-46)"/><use href="#k80" transform="rotate(-100)"/><use href="#k80" transform="rotate(-112)"/><use href="#k80" transform="rotate(40)"/><use href="#k80" transform="rotate(52)"/><use href="#k80" transform="rotate(64)"/><use href="#k80" transform="rotate(76)"/>
<circle class="hub" r="19"/><text class="hl" y="4" style="font-size:12px">N-XIII</text>
</g>
<g id="br-NIV" class="lf pu">
<path d="M495,603L473,563M495,603L484,558M495,603L494,565M495,603L462,570M495,603L482,572M495,603L502,573M495,603L459,581M495,603L470,577M495,603L491,579M495,603L469,587M495,603L480,588M495,603L464,604M495,603L474,610M495,603L465,616M495,603L477,619M495,603L455,623M495,603L467,628M495,603L453,610"/>
<circle cx="473" cy="563" r="4.5"/><circle cx="484" cy="556" r="4.5"/><circle cx="494" cy="565" r="4.5"/><circle cx="462" cy="570" r="4.5"/><circle cx="482" cy="572" r="4.5"/><circle cx="502" cy="573" r="4.5"/><circle cx="459" cy="581" r="4.5"/><circle cx="470" cy="579" r="4.5"/><circle cx="491" cy="580" r="4.5"/><circle cx="469" cy="590" r="4.5"/><circle cx="480" cy="589" r="4.5"/><circle cx="464" cy="604" r="4.5"/><circle cx="474" cy="611" r="4.5"/><circle cx="465" cy="617" r="4.5"/><circle cx="477" cy="620" r="4.5"/><circle cx="455" cy="623" r="4.5"/><circle cx="467" cy="629" r="4.5"/><circle cx="453" cy="610" r="4.5"/>
<circle class="hub" cx="495" cy="603" r="7"/><text class="hl" x="495" y="605" style="font-size:5px">N-IV</text>
</g>
<g id="br-brown" class="lf br">
<path d="M453,595L430,580M453,595L420,592M453,595L432,594M453,595L425,605"/>
<circle cx="430" cy="580" r="4.5"/><circle cx="419" cy="592" r="4.5"/><circle cx="432" cy="593" r="4.5"/><circle cx="425" cy="605" r="4.5"/>
<circle class="hub" cx="453" cy="595" r="5"/>
</g>
<g id="br-teal" class="lf te">
<path d="M430,551L408,526M430,551L420,523M430,551L417,537M430,551L429,530M430,551L409,552"/>
<circle cx="408" cy="526" r="4.5"/><circle cx="420" cy="523" r="4.5"/><circle cx="417" cy="537" r="4.5"/><circle cx="429" cy="530" r="4.5"/><circle cx="409" cy="552" r="4.5"/>
<circle class="hub" cx="430" cy="551" r="5"/>
</g>
<g id="br-lightblue" class="lf lb">
<path d="M402,539L386,523M402,539L380,535"/>
<circle cx="386" cy="523" r="4.5"/><circle cx="380" cy="535" r="4.5"/>
<circle class="hub" cx="402" cy="539" r="4.5"/>
</g>
<g id="br-NI" class="lf gr">
<path d="M627,570L631,542M627,570L644,537M627,570L654,546M627,570L641,552M627,570L653,559"/>
<circle cx="631" cy="542" r="4.5"/><circle cx="644" cy="537" r="4.5"/><circle cx="654" cy="546" r="4.5"/><circle cx="641" cy="552" r="4.5"/><circle cx="653" cy="559" r="4.5"/>
<circle class="hub" cx="627" cy="570" r="5"/><text class="hl" x="627" y="572" style="font-size:4px">N-I</text>
</g>
<g id="br-darkblue" class="lf db">
<circle cx="612" cy="567" r="4.5"/><circle cx="634" cy="586" r="4.5"/><circle cx="644" cy="593" r="4.5"/>
<circle class="hub" cx="602" cy="608" r="5"/>
</g>
<g id="br-NX" class="lf ye">
<path d="M612,656L657,648M612,656L654,661M612,656L645,669M612,656L657,673M612,656L646,683"/>
<circle cx="657" cy="648" r="4.5"/><circle cx="654" cy="661" r="4.5"/><circle cx="645" cy="670" r="4.5"/><circle cx="658" cy="673" r="4.5"/><circle cx="646" cy="683" r="4.5"/>
<circle class="hub" cx="612" cy="656" r="5"/><text class="hl" x="612" y="658" style="font-size:4px">N-X</text>
</g>
<g id="br-tealsmall" class="lf te">
<path d="M528,649L491,664"/>
<circle cx="491" cy="664" r="4.5"/>
<circle class="hub" cx="528" cy="649" r="5"/>
</g>
<g id="br-red" class="lf rd">
<path d="M538,715L514,736M538,715L529,735M538,715L522,748M538,715L537,746"/>
<circle cx="514" cy="736" r="4.5"/><circle cx="528" cy="735" r="4.5"/><circle cx="522" cy="748" r="4.5"/><circle cx="537" cy="746" r="4.5"/>
<circle class="hub" cx="538" cy="715" r="5"/>
</g>
<g id="br-NV" class="lf gy">
<path d="M677,749L697,734M677,749L709,740M677,749L698,746M677,749L716,753M677,749L706,756M677,749L695,757M677,749L712,766M677,749L700,767M677,749L688,766M677,749L673,767M677,749L660,769M677,749L706,777M677,749L693,776M677,749L681,776M677,749L671,782M677,749L684,787M677,749L697,786"/>
<circle cx="697" cy="734" r="4.5"/><circle cx="709" cy="740" r="4.5"/><circle cx="698" cy="746" r="4.5"/><circle cx="716" cy="753" r="4.5"/><circle cx="706" cy="756" r="4.5"/><circle cx="694" cy="757" r="4.5"/><circle cx="712" cy="766" r="4.5"/><circle cx="700" cy="767" r="4.5"/><circle cx="688" cy="766" r="4.5"/><circle cx="673" cy="767" r="4.5"/><circle cx="660" cy="769" r="4.5"/><circle cx="706" cy="777" r="4.5"/><circle cx="693" cy="776" r="4.5"/><circle cx="681" cy="777" r="4.5"/><circle cx="671" cy="783" r="4.5"/><circle cx="684" cy="787" r="4.5"/><circle cx="697" cy="786" r="4.5"/>
<circle class="hub" cx="677" cy="749" r="6"/><text class="hl" x="677" y="751" style="font-size:5px">N-V</text>
</g>
</svg>
